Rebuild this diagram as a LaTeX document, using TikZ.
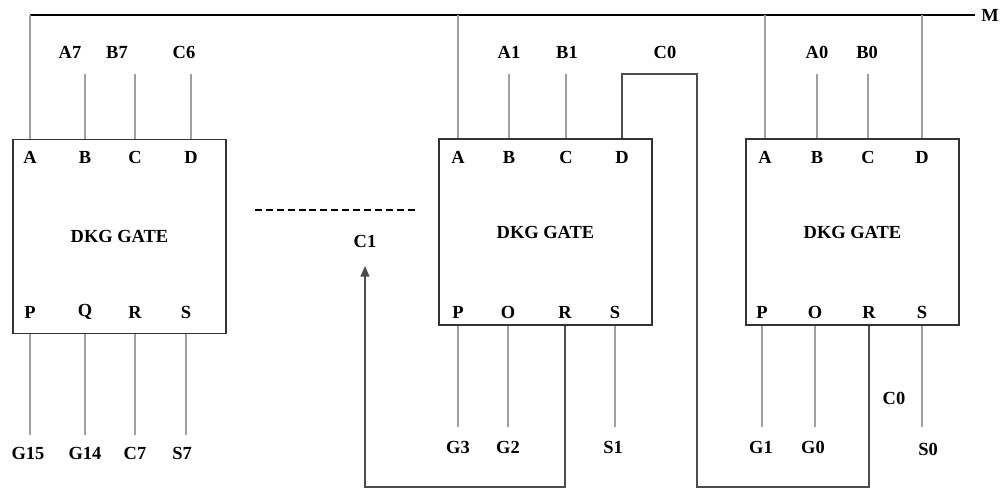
\documentclass[tikz,border=0pt]{standalone}
\usepackage{fontspec}
\setmainfont{Liberation Serif}
\usetikzlibrary{arrows.meta, positioning}

\begin{document}
\begin{tikzpicture}[x=0.02cm, y=-0.02cm,
  gate/.style={rectangle, draw=black!80, line width=0.8pt, minimum width=4.26cm, inner sep=0pt, font=\fontsize{10.5}{12}\selectfont\bfseries},
  pinlbl/.style={font=\fontsize{10.5}{12}\selectfont\bfseries},
  sig/.style={font=\fontsize{10.5}{12}\selectfont\bfseries},
  pin/.style={draw=gray!75, line width=1.1pt},
  wire/.style={draw=black!70, line width=0.8pt},
  bus/.style={draw=black, line width=0.8pt}
]
\useasboundingbox (0,0) rectangle (1000,489);

%  : -- Bus line M across the top  : --
\coordinate (mL) at (30,15);
\coordinate (mR) at (975,15);
\draw[bus] (mL) -- (mR);
\node[sig, anchor=east, inner sep=0.5pt] (m) at (1000,15) {M};

%  : -- Gate 7 (left)  : --
\node[gate, minimum height=3.88cm] (g7) at (119.5,236.5) {DKG GATE};
\foreach \x/\t/\n in {30/A/a, 85/B/b, 135/C/c, 191/D/d} {
  \node[pinlbl] (g7\n) at (\x,157) {\t};
}
\foreach \x/\t/\n in {30/P/p, 85/Q/q, 135/R/r, 186/S/s} {
  \node[pinlbl] (g7\n) at (\x,312) {\t};
}
\node[sig] (a7) at (70,52) {A7};
\node[sig] (b7) at (117,52) {B7};
\node[sig] (c6) at (184,52) {C6};
\coordinate (in7) at (0,74);
\draw[pin] (g7a |- g7.north) -- (g7a |- mL);
\draw[pin] (g7b |- g7.north) -- (g7b |- in7);
\draw[pin] (g7c |- g7.north) -- (g7c |- in7);
\draw[pin] (g7d |- g7.north) -- (g7d |- in7);
\node[sig] (g15) at (28,453) {G15};
\node[sig] (g14) at (85,453) {G14};
\node[sig] (c7) at (135,453) {C7};
\node[sig] (s7) at (182,453) {S7};
\coordinate (out7) at (0,435);
\draw[pin] (g7p |- g7.south) -- (g7p |- out7);
\draw[pin] (g7q |- g7.south) -- (g7q |- out7);
\draw[pin] (g7r |- g7.south) -- (g7r |- out7);
\draw[pin] (g7s |- g7.south) -- (g7s |- out7);

%  : -- Dashed gap and carry C1  : --
\coordinate (dashL) at (255,210);
\coordinate (dashR) at (415,210);
\draw[line width=1.7pt, dash pattern=on 4pt off 2.2pt] (dashL) -- (dashR);
\node[sig] (c1) at (365,241) {C1};

%  : -- Gate 1 (middle)  : --
\node[gate, minimum height=3.72cm] (g1) at (545.5,232) {DKG GATE};
\foreach \x/\t/\n in {458/A/a, 509/B/b, 566/C/c, 622/D/d} {
  \node[pinlbl] (g1\n) at (\x,157) {\t};
}
\foreach \x/\t/\n in {458/P/p, 508/O/q, 565/R/r, 615/S/s} {
  \node[pinlbl] (g1\n) at (\x,312) {\t};
}
\node[sig] (a1) at (509,52) {A1};
\node[sig] (b1) at (567,52) {B1};
\node[sig] (c0t) at (665,52) {C0};
\coordinate (in1) at (0,74);
\draw[pin] (g1a |- g1.north) -- (g1a |- mL);
\draw[pin] (g1b |- g1.north) -- (g1b |- in1);
\draw[pin] (g1c |- g1.north) -- (g1c |- in1);
\node[sig] (g3) at (458,447) {G3};
\node[sig] (g2) at (508,447) {G2};
\node[sig] (s1) at (613,447) {S1};
\coordinate (out1) at (0,427);
\draw[pin] (g1p |- g1.south) -- (g1p |- out1);
\draw[pin] (g1q |- g1.south) -- (g1q |- out1);
\draw[pin] (g1s |- g1.south) -- (g1s |- out1);

%  : -- Gate 0 (right)  : --
\node[gate, minimum height=3.72cm] (g0) at (852.5,232) {DKG GATE};
\foreach \x/\t/\n in {765/A/a, 817/B/b, 868/C/c, 922/D/d} {
  \node[pinlbl] (g0\n) at (\x,157) {\t};
}
\foreach \x/\t/\n in {762/P/p, 815/O/q, 869/R/r, 922/S/s} {
  \node[pinlbl] (g0\n) at (\x,312) {\t};
}
\node[sig] (a0) at (817,52) {A0};
\node[sig] (b0) at (867,52) {B0};
\coordinate (in0) at (0,74);
\draw[pin] (g0a |- g0.north) -- (g0a |- mL);
\draw[pin] (g0b |- g0.north) -- (g0b |- in0);
\draw[pin] (g0c |- g0.north) -- (g0c |- in0);
\draw[pin] (g0d |- g0.north) -- (g0d |- mL);
\node[sig] (g1o) at (761,447) {G1};
\node[sig] (g0o) at (813,447) {G0};
\node[sig] (s0) at (928,449) {S0};
\node[sig] (c0b) at (894,398) {C0};
\coordinate (out0) at (0,427);
\draw[pin] (g0p |- g0.south) -- (g0p |- out0);
\draw[pin] (g0q |- g0.south) -- (g0q |- out0);
\draw[pin] (g0s |- g0.south) -- (g0s |- out0);

%  : -- Carry wires  : --
\coordinate (c0up) at (697,74);
\coordinate (c0dn) at (697,487);
\draw[wire] (g1d |- g1.north) |- (c0up) -- (c0dn) -| (g0r |- g0.south);
\coordinate (c1dn) at (365,487);
\coordinate (c1tip) at (365,266);
\draw[wire, -{Triangle[length=6pt, width=5pt]}] (g1r |- g1.south) |- (c1dn) -- (c1tip);

\end{tikzpicture}
\end{document}
